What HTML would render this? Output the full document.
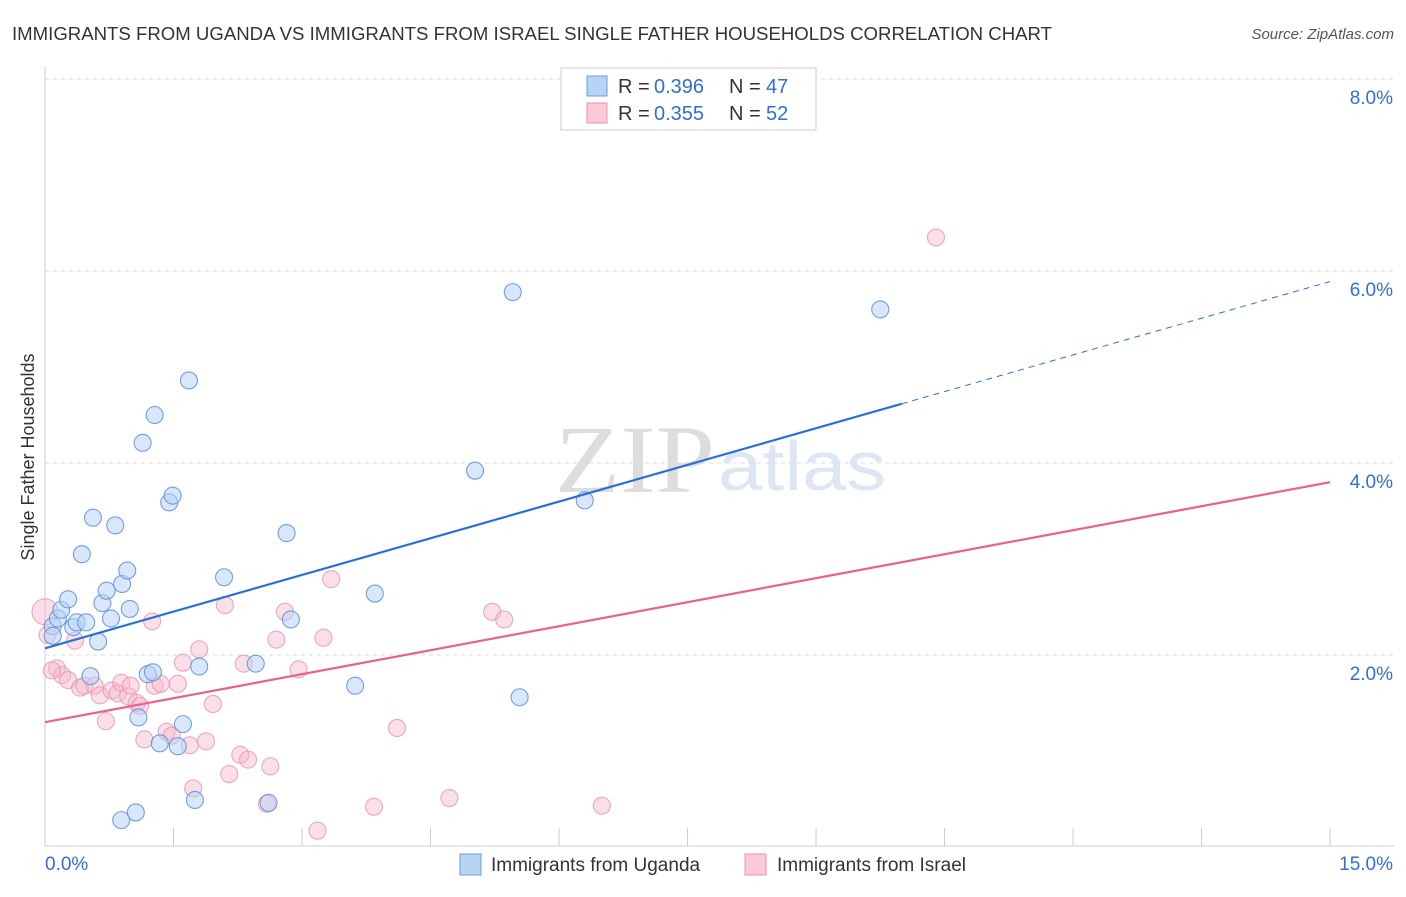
<!DOCTYPE html>
<html><head><meta charset="utf-8"><style>
body{margin:0;background:#fff;font-family:"Liberation Sans",sans-serif}
#c{position:relative;width:1406px;height:892px}
</style></head><body>
<div id="c">
<svg id="s" width="1406" height="892" xmlns="http://www.w3.org/2000/svg">
<text x="12" y="40" font-size="18" fill="#333" textLength="1040" lengthAdjust="spacingAndGlyphs">IMMIGRANTS FROM UGANDA VS IMMIGRANTS FROM ISRAEL SINGLE FATHER HOUSEHOLDS CORRELATION CHART</text>
<text x="1394" y="39" font-size="15" fill="#555" font-style="italic" text-anchor="end">Source: ZipAtlas.com</text>
<text x="34" y="457" font-size="18" fill="#333" transform="rotate(-90 34 457)" text-anchor="middle">Single Father Households</text>
<text x="555" y="492" font-size="96" fill="#ddd" textLength="160" lengthAdjust="spacingAndGlyphs" font-family="Liberation Serif">ZIP</text>
<text x="718" y="490" font-size="70" fill="#dce6f5" textLength="168" lengthAdjust="spacingAndGlyphs">atlas</text>
<g id="grid"></g><g id="pts"></g><g id="lines"></g>
<g>
<rect x="561" y="68" width="255" height="62" fill="#fff" stroke="#ccc"/>
<rect x="587" y="76" width="20" height="20" fill="#b8d4f5" stroke="#6a9be0"/>
<rect x="587" y="103" width="20" height="20" fill="#fbc9da" stroke="#ee8fb0"/>
<text y="93" font-size="20" fill="#333"><tspan x="618">R =</tspan><tspan x="654" fill="#2f6fd6">0.396</tspan><tspan x="729">N =</tspan><tspan x="766" fill="#2f6fd6">47</tspan></text>
<text y="120" font-size="20" fill="#333"><tspan x="618">R =</tspan><tspan x="654" fill="#2f6fd6">0.355</tspan><tspan x="729">N =</tspan><tspan x="766" fill="#2f6fd6">52</tspan></text>
</g>
<g>
<rect x="460" y="854" width="21" height="21" fill="#b8d4f5" stroke="#6a9be0"/>
<text x="491" y="871" font-size="19" fill="#333">Immigrants from Uganda</text>
<rect x="745" y="854" width="21" height="21" fill="#fbc9da" stroke="#ee8fb0"/>
<text x="777" y="871" font-size="19" fill="#333">Immigrants from Israel</text>
</g>
<text x="45" y="870" font-size="19" fill="#2f6fd6">0.0%</text>
<text x="1393" y="870" font-size="19" fill="#2f6fd6" text-anchor="end">15.0%</text>
</svg></div>
<script>
const ugX=[0.09,0.15,0.19,0.27,0.33,0.37,0.48,0.53,0.62,0.43,0.56,0.82,0.67,0.72,0.77,0.90,0.96,0.99,1.20,1.26,1.09,0.89,1.06,1.14,1.28,1.45,1.49,1.34,1.55,1.61,1.68,1.75,1.80,2.09,2.46,2.61,2.82,2.87,3.62,3.85,5.02,5.46,5.54,6.30,9.75,0.09];
const ugY=[2.30,2.38,2.47,2.58,2.29,2.34,2.34,1.78,2.14,3.05,3.43,3.35,2.54,2.67,2.38,2.74,2.88,2.48,1.80,1.82,1.35,0.28,0.36,4.21,4.50,3.59,3.66,1.08,1.05,1.28,4.86,0.49,1.88,2.81,1.91,0.46,3.27,2.37,1.68,2.64,3.92,5.78,1.56,3.61,5.60,2.20];
const isX=[0.0,0.03,0.14,0.20,0.27,0.35,0.41,0.46,0.58,0.64,0.71,0.78,0.85,0.89,0.97,1.00,1.07,1.11,1.16,1.25,1.28,1.35,1.42,1.48,1.55,1.61,1.69,1.73,1.80,1.88,1.96,2.10,2.15,2.28,2.32,2.37,2.63,2.59,2.70,2.80,2.96,3.18,3.25,3.34,3.84,4.11,4.72,5.22,5.36,6.50,10.40,0.08];
const isY=[2.45,2.21,1.86,1.79,1.74,2.15,1.66,1.68,1.68,1.58,1.31,1.63,1.60,1.71,1.57,1.68,1.50,1.47,1.12,2.35,1.68,1.70,1.20,1.16,1.70,1.92,1.06,0.61,2.06,1.10,1.49,2.52,0.76,0.96,1.91,0.91,0.84,0.45,2.16,2.45,1.85,0.17,2.18,2.79,0.42,1.24,0.51,2.45,2.37,0.43,6.35,1.84];
const yTicks=[2,4,6,8];
const xTicks=[0,1.5,3,4.5,6,7.5,9,10.5,12,13.5,15];
const ugLine=[2.07,5.89], isLine=[1.30,3.80], ugSolidEnd=10.0;
const X=v=>45+v*85.67, Y=v=>847-v*96;
const NS="http://www.w3.org/2000/svg";
function mk(t,a,p){const e=document.createElementNS(NS,t);for(const k in a)e.setAttribute(k,a[k]);p.appendChild(e);return e;}
const g=document.getElementById('grid');
let ax=mk('line',{x1:45,y1:67,x2:45,y2:846,stroke:'#ccc'},g);


let bx=mk('line',{x1:45,y1:846,x2:1394,y2:846,stroke:'#ccc'},g);


yTicks.forEach(v=>{
 const l=mk('line',{x1:45,y1:Y(v),x2:1394,y2:Y(v),stroke:'#ddd','stroke-dasharray':'4 4'},g);
 
 
 const t=mk('text',{x:1393,y:Y(v)+25,'font-size':19,fill:'#2f6fd6','text-anchor':'end'},g);
 t.textContent=v.toFixed(1)+'%';
 
 
});
xTicks.forEach(v=>{
 const l=mk('line',{x1:X(v),y1:828,x2:X(v),y2:846,stroke:'#ccc'},g);
 
 
});
const p=document.getElementById('pts');
function dots(xs,ys,f,s,n,op){xs.forEach((x,i)=>{
 const c=mk('circle',{cx:X(x),cy:Y(ys[i]),r:(i==0&&n=='israel-point')?13:8.5,fill:f,'fill-opacity':op,stroke:s,'stroke-width':1.1,'stroke-opacity':0.85},p);
 
 
});}
dots(isX,isY,'#f7b8cd','#e99ab5','israel-point',0.45);
dots(ugX,ugY,'#b8d4f5','#5a90dc','uganda-point',0.55);
const L=document.getElementById('lines');
const f=(a,x)=>a[0]+(a[1]-a[0])*x/15;
let b1=mk('line',{x1:X(0),y1:Y(f(ugLine,0)),x2:X(ugSolidEnd),y2:Y(f(ugLine,ugSolidEnd)),stroke:'#2a6fd8','stroke-width':2.2},L);


let b2=mk('line',{x1:X(ugSolidEnd),y1:Y(f(ugLine,ugSolidEnd)),x2:X(15),y2:Y(f(ugLine,15)),stroke:'#2a6fd8','stroke-width':1,'stroke-dasharray':'6 5'},L);


let p1=mk('line',{x1:X(0),y1:Y(f(isLine,0)),x2:X(15),y2:Y(f(isLine,15)),stroke:'#e8628e','stroke-width':2.2},L);


</script>
</body></html>
